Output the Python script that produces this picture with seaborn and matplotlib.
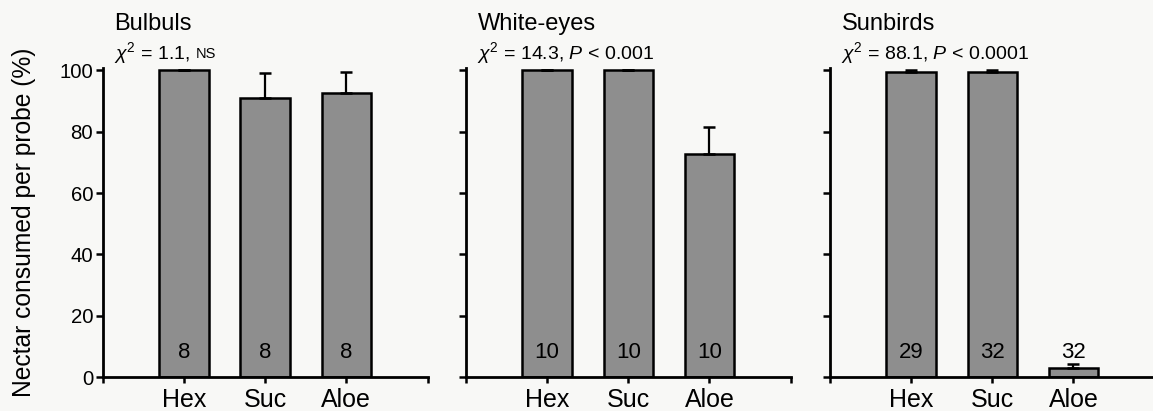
import pandas as pd
import matplotlib
matplotlib.use('Agg')
import matplotlib.pyplot as plt
import seaborn as sns

# data
birds = ['Bulbuls', 'White-eyes', 'Sunbirds']
sugars = ['Hex', 'Suc', 'Aloe']
bulbul_mean = [100, 91.0, 92.6]
bulbul_err = [0, 8.1, 6.8]
whiteeye_mean = [100, 100, 72.7]
whiteeye_err = [0, 0, 8.8]
sunbird_mean = [99.4, 99.5, 2.8]
sunbird_err = [0.7, 0.6, 1.5]
bulbul_n = [8, 8, 8]
whiteeye_n = [10, 10, 10]
sunbird_n = [29, 32, 32]
chi_values = ['1.1', '14.3', '88.1']
p_texts = [None, '0.001', '0.0001']

rows = []
for bird, means, errs, ns in zip(birds,
                                 [bulbul_mean, whiteeye_mean, sunbird_mean],
                                 [bulbul_err, whiteeye_err, sunbird_err],
                                 [bulbul_n, whiteeye_n, sunbird_n]):
    for s, m, e, n in zip(sugars, means, errs, ns):
        rows.append({'bird': bird, 'sugar': s, 'mean': m, 'err': e, 'n': n})
df = pd.DataFrame(rows)

sns.set_style('ticks')
plt.rcParams['font.family'] = ['Liberation Sans', 'DejaVu Sans']
plt.rcParams['mathtext.fontset'] = 'custom'
plt.rcParams['mathtext.rm'] = 'Liberation Sans'
plt.rcParams['mathtext.it'] = 'Liberation Sans:italic'
plt.rcParams['text.color'] = 'black'
plt.rcParams['xtick.color'] = 'black'
plt.rcParams['ytick.color'] = 'black'
plt.rcParams['axes.labelcolor'] = 'black'
plt.rcParams['axes.edgecolor'] = 'black'

bg = '#f8f8f6'
fig = plt.figure(figsize=(11.53, 4.11), dpi=100, facecolor=bg)
lefts = [0.0893, 0.4042, 0.7199]

for i, bird in enumerate(birds):
    ax = fig.add_axes([lefts[i], 0.0827, 0.2815, 0.752])
    ax.set_facecolor(bg)
    sub = df[df['bird'] == bird]
    sns.barplot(data=sub, x='sugar', y='mean', color='#8e8e8e', saturation=1,
                edgecolor='black', linewidth=1.8, width=0.61, errorbar=None, ax=ax)
    ax.errorbar(x=range(len(sub)), y=sub['mean'],
                yerr=[[0] * len(sub), sub['err']], fmt='none', ecolor='black',
                elinewidth=1.6, capsize=4.5, capthick=1.8, zorder=1)
    for j, n in enumerate(sub['n']):
        ax.text(j, 4.5, str(n), ha='center', va='bottom', fontsize=16, zorder=5)

    ax.set_xlim(-1, 3)
    ax.set_ylim(0, 100.8)
    ax.set_yticks(range(0, 101, 20))
    ax.set_xticks([-1, 3], minor=True)
    for sp in ['top', 'right']:
        ax.spines[sp].set_visible(False)
    for sp in ['left', 'bottom']:
        ax.spines[sp].set_linewidth(2)
    ax.tick_params(axis='y', length=5, width=1.8, pad=2, labelsize=14.7)
    ax.tick_params(axis='x', which='both', length=4, width=1.8, pad=4, labelsize=18)
    ax.set_xlabel('')
    if i == 0:
        ax.set_ylabel('Nectar consumed per probe (%)', fontsize=17.7, labelpad=17)
    else:
        ax.set_ylabel('')
        ax.set_yticklabels([])

    ax.text(0.035, 1.143, bird, transform=ax.transAxes, fontsize=17, va='center')
    if p_texts[i] is None:
        t = ax.text(0.035, 1.048, r'$\chi^2$ = ' + chi_values[i] + ',',
                    transform=ax.transAxes, fontsize=14, va='center')
        ax.annotate('NS', xy=(1, 0.2), xycoords=t, xytext=(4, 0),
                    textcoords='offset points', fontsize=10.5, va='bottom')
    else:
        ax.text(0.035, 1.048,
                r'$\chi^2$ = ' + chi_values[i] + ', $P$ < ' + p_texts[i],
                transform=ax.transAxes, fontsize=14, va='center')

fig.savefig('out.png', dpi=100, facecolor=bg)
